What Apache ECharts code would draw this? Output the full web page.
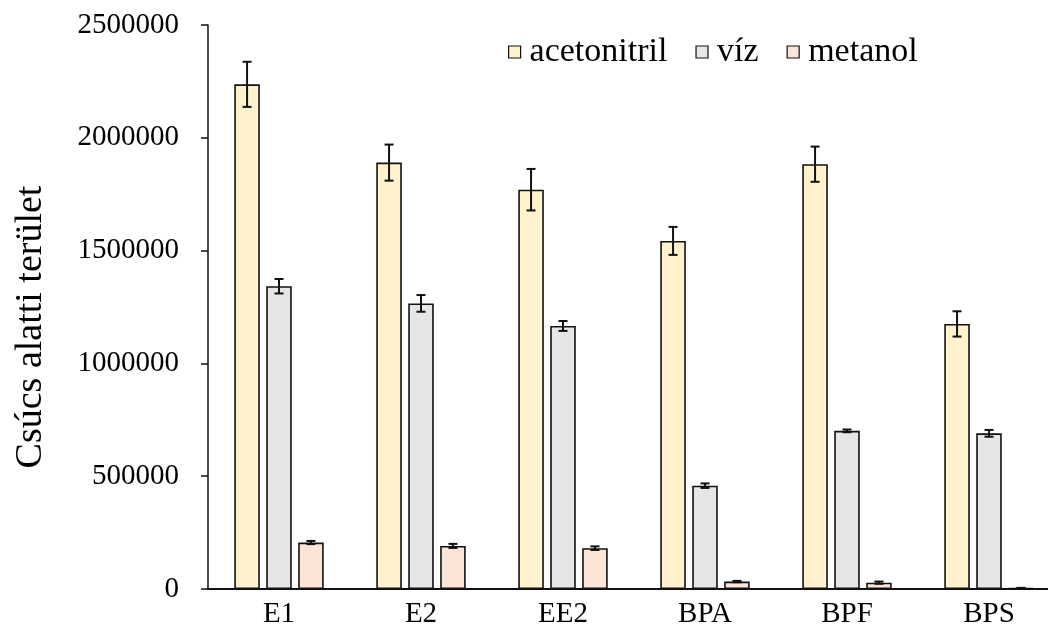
<!DOCTYPE html>
<html>
<head>
<meta charset="utf-8">
<script src="https://cdn.jsdelivr.net/npm/echarts@6/dist/echarts.min.js"></script>
<style>
  html, body { margin: 0; padding: 0; background: #fff; overflow: hidden; }
  /* the canvas runs a little past the right edge of the page */
  #chart { width: 1060px; height: 637px; }
</style>
</head>
<body>
<div id="chart"></div>
<script>
// Compounds on the category axis
const categories = ['E1', 'E2', 'EE2', 'BPA', 'BPF', 'BPS'];

// Mean peak areas per solvent
const acetonitril = [2237000, 1890000, 1770000, 1543000, 1883000, 1175000];
const viz         = [1342000, 1266000, 1166000,  458000,  701000,  690000];
const metanol     = [ 206000,  191000,  181000,   33000,   28000,    4000];

// Standard deviations (error bars)
const acetonitrilErr = [100000, 80000, 92000, 62000, 78000, 56000];
const vizErr         = [ 32000, 37000, 22000, 10000,  6000, 15000];
const metanolErr     = [  7000,  9000,  8000,  3000,  5000,  1000];

// Y axis ticks
const yTicks = [0, 500000, 1000000, 1500000, 2000000, 2500000];

const seriesNames = ['acetonitril', 'víz', 'metanol'];
const colors = ['#FFF2CC', '#E7E6E6', '#FCE4D6'];
const yTitle = 'Csúcs alatti terület';

const FONT = '"Liberation Serif", "DejaVu Serif", serif';
const BAR_CATEGORY_GAP = 0.37;
const BAR_GAP = 0.25;

const means = [acetonitril, viz, metanol];
const errs = [acetonitrilErr, vizErr, metanolErr];

function errorSeries(k) {
  const data = categories.map((c, i) => [i, means[k][i] - errs[k][i], means[k][i] + errs[k][i]]);
  return {
    type: 'custom',
    name: seriesNames[k] + '-err',
    z: 10,
    silent: true,
    data: data,
    encode: { x: 0, y: [1, 2] },
    renderItem: function (params, api) {
      const idx = api.value(0);
      const lo = api.coord([idx, api.value(1)]);
      const hi = api.coord([idx, api.value(2)]);
      const catW = api.size([1, 0])[0];
      const barW = catW * (1 - BAR_CATEGORY_GAP) / (3 + 2 * BAR_GAP);
      const offset = (k - 1) * barW * (1 + BAR_GAP);
      const x = lo[0] + offset;
      const cap = 4.5;
      const style = { stroke: '#111', lineWidth: 2 };
      return {
        type: 'group',
        children: [
          { type: 'line', shape: { x1: x, y1: hi[1], x2: x, y2: lo[1] }, style: style },
          { type: 'line', shape: { x1: x - cap, y1: hi[1], x2: x + cap, y2: hi[1] }, style: style },
          { type: 'line', shape: { x1: x - cap, y1: lo[1], x2: x + cap, y2: lo[1] }, style: style }
        ]
      };
    }
  };
}

const barSeries = means.map((vals, k) => ({
  type: 'bar',
  name: seriesNames[k],
  data: vals,
  barCategoryGap: (BAR_CATEGORY_GAP * 100) + '%',
  barGap: (BAR_GAP * 100) + '%',
  itemStyle: { color: colors[k], borderColor: '#111', borderWidth: 1.6 }
}));

const chart = echarts.init(document.getElementById('chart'), null, { renderer: 'canvas' });
chart.setOption({
  backgroundColor: '#fff',
  animation: false,
  textStyle: { fontFamily: FONT },
  grid: { left: 208, right: 0, top: 25, bottom: 48 },
  legend: {
    data: seriesNames,
    left: 503,
    top: 30,
    icon: 'rect',
    itemWidth: 12,
    itemHeight: 12,
    itemGap: 28,
    itemStyle: { borderWidth: 1.2, borderColor: '#111' },
    textStyle: { fontFamily: FONT, fontSize: 34, color: '#000', padding: [0, 0, 0, 4] }
  },
  graphic: [{
    type: 'text',
    z: 20,
    x: 31,
    y: 327,
    rotation: Math.PI / 2,
    style: {
      text: yTitle,
      font: '38px ' + FONT,
      fill: '#000',
      align: 'center',
      verticalAlign: 'middle'
    }
  }],
  xAxis: {
    type: 'category',
    data: categories,
    axisLine: { lineStyle: { color: '#111', width: 2 } },
    axisTick: { show: false },
    axisLabel: { fontFamily: FONT, fontSize: 29, color: '#000', margin: 11 }
  },
  yAxis: {
    type: 'value',
    min: yTicks[0],
    max: yTicks[yTicks.length - 1],
    interval: yTicks[1] - yTicks[0],
    splitLine: { show: false },
    axisLine: { show: true, lineStyle: { color: '#111', width: 1.5 } },
    axisTick: { show: true, inside: false, length: 7, lineStyle: { color: '#111', width: 1.5 } },
    axisLabel: {
      fontFamily: FONT, fontSize: 29, color: '#000', margin: 29,
      formatter: v => String(v)
    }
  },
  series: barSeries.concat([errorSeries(0), errorSeries(1), errorSeries(2)])
});
</script>
</body>
</html>
